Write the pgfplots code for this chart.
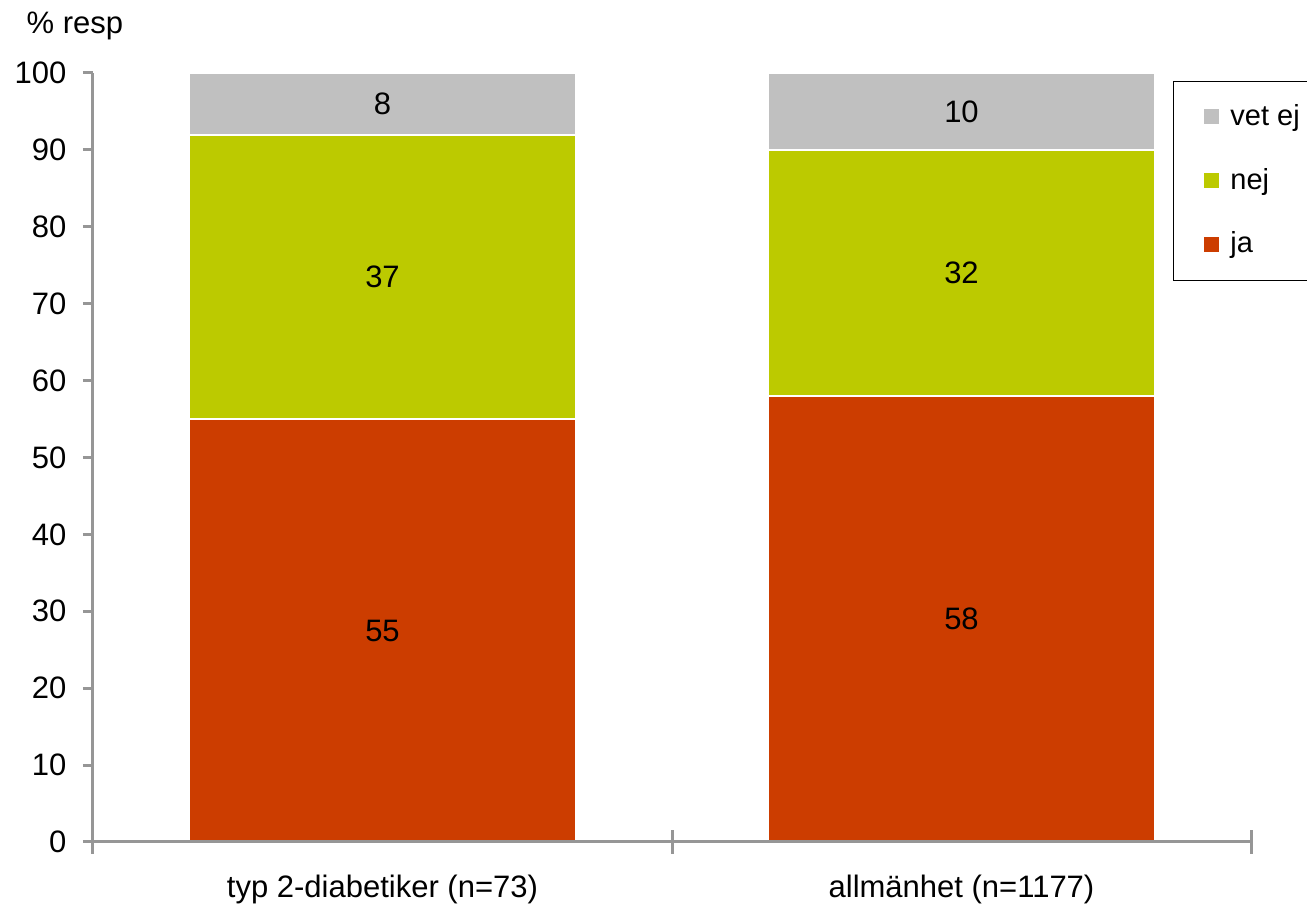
\documentclass[border=0pt]{standalone}
\usepackage{pgfplots}
\pgfplotsset{compat=1.18}
\usepackage{fontspec}
\setmainfont{Liberation Sans}
\definecolor{cgrey}{RGB}{192,192,192}
\definecolor{cgreen}{RGB}{188,202,0}
\definecolor{cred}{RGB}{204,61,0}
\definecolor{caxis}{RGB}{150,150,150}
\begin{document}
\fontsize{15.5}{18}\selectfont
\begin{tikzpicture}
\begin{axis}[
  scale only axis,
  width=579pt, height=384.5pt,
  ybar stacked,
  bar width=0.667,
  xmin=-0.5, xmax=1.5,
  ymin=0, ymax=100,
  axis on top,
  axis lines*=left,
  axis line style={caxis, line width=1.5pt},
  ytick={0,10,...,100},
  ytick style={caxis, line width=1.5pt},
  tick align=outside,
  major tick length=5pt,
  yticklabel style={font=\fontsize{15.5}{18}\selectfont, xshift=-3pt},
  xtick={0,1},
  xticklabels={typ 2-diabetiker (n=73), allmänhet (n=1177)},
  xtick style={draw=none},
  extra x ticks={-0.5,0.5,1.5},
  extra x tick labels={},
  extra x tick style={major tick length=12pt, tick align=center,
     xtick style={draw=caxis, line width=1.5pt}},
  xticklabel style={font=\fontsize{15.5}{18}\selectfont, yshift=-6pt},
  /pgf/number format/assume math mode=true,
  visualization depends on=rawy \as \rawy,
  nodes near coords={\pgfmathprintnumber{\rawy}},
  every node near coord/.append style={anchor=center, text=black,
     font=\fontsize{15.5}{18}\selectfont},
  reverse legend,
  legend style={at={(rel axis cs:0.9326,0.9896)}, anchor=north west,
     draw=black, line width=0.5pt, font=\fontsize{14.5}{17}\selectfont,
     inner xsep=15.5pt, inner ysep=9.5pt, row sep=15pt, column sep=3.5pt,
     cells={anchor=west}},
  legend image code/.code={\fill[#1, draw=none] (0pt,-3.5pt) rectangle (7.5pt,4pt);},
  clip=false,
]
\addplot[fill=cred, draw=white, line width=1pt] coordinates {(0,55) (1,58)};
\addlegendentry{ja}
\addplot[fill=cgreen, draw=white, line width=1pt] coordinates {(0,37) (1,32)};
\addlegendentry{nej}
\addplot[fill=cgrey, draw=white, line width=1pt] coordinates {(0,8) (1,10)};
\addlegendentry{vet ej}
\node[anchor=west, xshift=-38.5pt, yshift=23.5pt] at (rel axis cs:0,1) {\% resp};
\end{axis}
\pgfresetboundingbox
\useasboundingbox (-46.5pt,-31pt) rectangle (607pt,421pt);
\end{tikzpicture}
\end{document}
